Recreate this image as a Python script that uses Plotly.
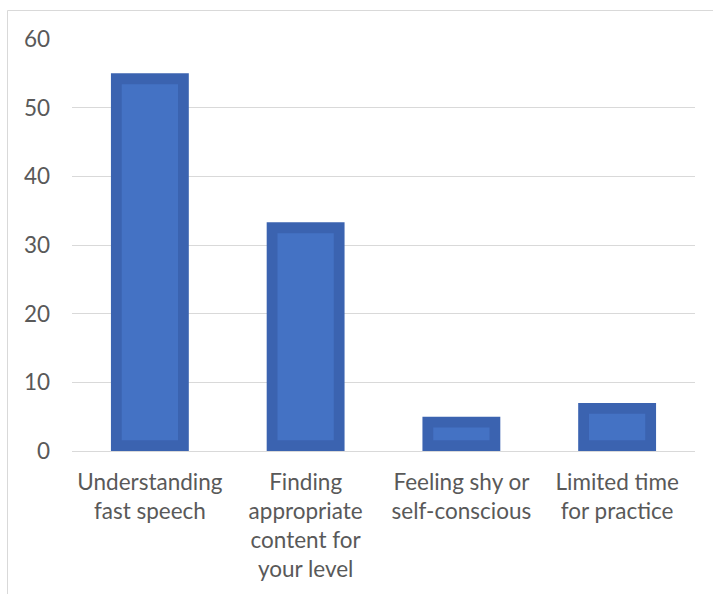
import plotly.graph_objects as go

# Survey results: main difficulties reported
categories = [
    "Understanding<br>fast speech",
    "Finding<br>appropriate<br>content for<br>your level",
    "Feeling shy or<br>self-conscious",
    "Limited time<br>for practice",
]
values = [55, 33.3, 5, 7]
y_ticks = [0, 10, 20, 30, 40, 50, 60]

# Figure geometry (pixels)
W, H = 713, 594
M_L, M_R, M_T, M_B = 72, 18, 39, 143
Y_MAX = 60
plot_w = W - M_L - M_R
plot_h = H - M_T - M_B

# Bar styling: dark frame with lighter inner panel
BAR_W = 0.5
FRAME_PX = 10.8
OUTER = "#3B63B0"
INNER = "#4472C4"
pad_x = FRAME_PX / (plot_w / len(categories))
pad_y = FRAME_PX / (plot_h / Y_MAX)

fig = go.Figure()
fig.add_trace(go.Bar(
    x=categories, y=values, width=BAR_W,
    marker=dict(color=OUTER, line=dict(width=0)),
    hoverinfo="skip",
))
fig.add_trace(go.Bar(
    x=categories, y=[v - 2 * pad_y for v in values], base=pad_y,
    width=BAR_W - 2 * pad_x,
    marker=dict(color=INNER, line=dict(width=0)),
    hovertext=[f"{v}" for v in values], hoverinfo="text",
))

font = dict(family="Lato, 'Open Sans', sans-serif", size=22.5, color="#595959")

fig.update_layout(
    width=W, height=H,
    margin=dict(l=M_L, r=M_R, t=M_T, b=M_B, pad=0),
    paper_bgcolor="white", plot_bgcolor="white",
    barmode="overlay", showlegend=False,
    font=font,
    xaxis=dict(
        showgrid=False, showline=False, zeroline=False,
        ticks="", tickfont=font, ticklabelstandoff=15,
        fixedrange=True,
    ),
    yaxis=dict(
        range=[0, Y_MAX], tickvals=y_ticks,
        showgrid=True, gridcolor="#D9D9D9", gridwidth=1,
        zeroline=True, zerolinecolor="#D9D9D9", zerolinewidth=1,
        showline=False, ticks="", tickfont=font,
        ticklabelstandoff=21, fixedrange=True,
    ),
    shapes=[dict(
        type="rect", xref="paper", yref="paper",
        x0=(7.5 - M_L) / plot_w, x1=(W + 5 - M_L) / plot_w,
        y0=-(M_B + 5) / plot_h, y1=1 + (M_T - 10.5) / plot_h,
        line=dict(color="#D9D9D9", width=1), fillcolor="rgba(0,0,0,0)",
        layer="below",
    )],
)

fig.write_html("out.html")
